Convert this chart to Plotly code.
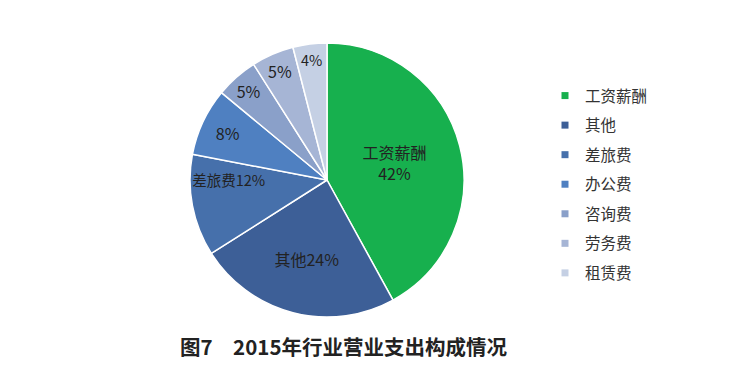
import plotly.graph_objects as go

categories = ["工资薪酬", "其他", "差旅费", "办公费", "咨询费", "劳务费", "租赁费"]
values = [42, 24, 12, 8, 5, 5, 4]
colors = ["#17b04e", "#3d5f97", "#4670ab", "#4f80c1", "#8aa0c9", "#a6b5d5", "#c5d0e4"]
label_templates = ["%{label}<br>%{percent:.0%}", "%{label}%{percent:.0%}", "%{label}%{percent:.0%}",
                   "%{percent:.0%}", "%{percent:.0%}", "%{percent:.0%}", "%{percent:.0%}"]
title_text = "图7　2015年行业营业支出构成情况"

W, H = 743, 368
cx, cy, r = 327, 180, 137

fig = go.Figure()
fig.add_trace(go.Pie(
    labels=categories,
    values=values,
    sort=False,
    direction="clockwise",
    rotation=0,
    marker=dict(colors=colors, line=dict(color="white", width=1.5)),
    texttemplate=label_templates,
    textposition="inside",
    insidetextorientation="horizontal",
    textfont=dict(family="Noto Sans CJK SC", size=16, color="#222222"),
    hoverinfo="label+percent",
    showlegend=False,
    domain=dict(x=[(cx - r) / W, (cx + r) / W], y=[(H - cy - r) / H, (H - cy + r) / H]),
))

# legend entries (one per slice, same colours as the slices)
for name, col in zip(categories, colors):
    fig.add_trace(go.Scatter(
        x=[None], y=[None], mode="markers", name=name, legendgroup=name,
        marker=dict(symbol="square", size=7, color=col),
        hoverinfo="skip",
    ))

fig.update_layout(
    width=W, height=H,
    margin=dict(l=0, r=0, t=0, b=0),
    paper_bgcolor="white", plot_bgcolor="white",
    font=dict(family="Noto Sans CJK SC", color="#333333"),
    xaxis=dict(visible=False), yaxis=dict(visible=False),
    legend=dict(
        x=545 / W, y=(H - 79) / H, xanchor="left", yanchor="top",
        traceorder="grouped", tracegroupgap=6.4, itemwidth=30,
        font=dict(family="Noto Sans CJK SC", size=15.5, color="#333333"),
        bgcolor="rgba(0,0,0,0)",
    ),
    annotations=[dict(
        text="<b>" + title_text + "</b>", x=343 / W, y=(H - 346) / H,
        xref="paper", yref="paper", xanchor="center", yanchor="middle", showarrow=False,
        font=dict(family="Noto Sans CJK SC", size=20.5, color="#222222"),
    )],
)

fig.write_html("out.html", config={"displayModeBar": False},
               post_script="document.body.style.margin='0';")
